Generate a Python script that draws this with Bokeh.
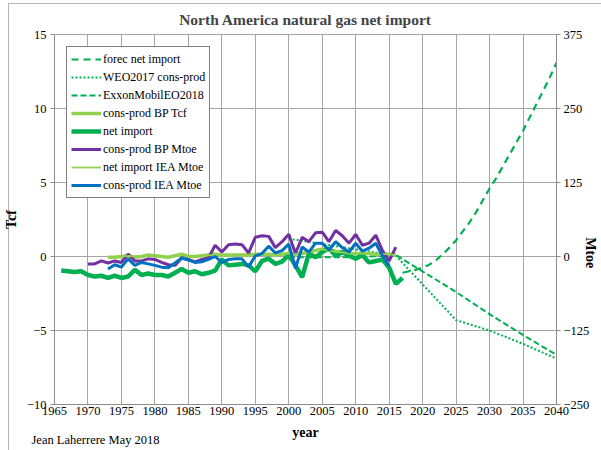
from bokeh.plotting import figure
from bokeh.models import Range1d, LinearAxis, FixedTicker, Legend, LegendItem, Title
from bokeh.embed import file_html
from bokeh.resources import INLINE

# ---------------- data ----------------
x_ticks = list(range(1965, 2041, 5))
y_ticks_tcf = [-10, -5, 0, 5, 10, 15]
y_ticks_mtoe = [-250, -125, 0, 125, 250, 375]

# net import (Tcf)
net_years = list(range(1966, 2018))
net_import = [-0.95, -1.0, -1.05, -1.0, -1.25, -1.35, -1.3, -1.45, -1.3, -1.45,
              -1.35, -0.9, -1.25, -1.15, -1.25, -1.25, -1.35, -1.1, -0.85, -1.1,
              -1.0, -1.2, -1.1, -0.95, -0.2, -0.6, -0.55, -0.5, -0.6, -1.0,
              -0.3, -0.15, -0.5, -0.35, 0.1, -0.6, -1.4, 0.2, -0.05, 0.3,
              0.55, 0.05, 0.3, 0.05, -0.15, 0.1, -0.4, -0.3, -0.2, -0.75,
              -1.85, -1.45]

# cons-prod BP (Tcf)
bp_tcf_years = list(range(1973, 2017))
bp_tcf = [-0.05, -0.05, 0.0, 0.05, -0.05, 0.0, 0.1, 0.05, 0.0, -0.05,
          0.05, 0.15, 0.0, 0.0, 0.05, 0.1, 0.15, 0.1, 0.1, 0.1,
          0.1, 0.1, 0.15, 0.15, 0.15, 0.1, 0.15, 0.2, 0.15, 0.2,
          0.3, 0.4, 0.5, 0.45, 0.35, 0.3, 0.2, 0.2, 0.2, 0.2,
          0.15, 0.15, 0.15, 0.1]

# cons-prod BP (Mtoe)
bp_mtoe_years = list(range(1970, 2017))
bp_mtoe = [-12.5, -12.5, -7.5, -11, -7.5, -10, 4, -7.5, -7.5, -4,
           -5, -10, -14, -15, -2.5, -5, -9, -5, -2.5, 19,
           7.5, 20, 21, 20, 6, 32.5, 35, 34, 15, 25,
           37.5, 5, 32.5, 25, 40, 41, 25, 44, 35, 22.5,
           37.5, 19, 22.5, 36, 10, -7.5, 16]

# net import IEA (Mtoe)
iea_net_years = list(range(1973, 2017))
iea_net = [-2, -1, 0, 1, 0, -1, 2, 1, 0, -1,
           1, 3, 1, 0, 1, 2, 3, 2, 2, 3,
           3, 2, 3, 4, 4, 3, 4, 5, 4, 5,
           7, 10, 12, 10, 8, 7, 5, 5, 5, 4,
           4, 4, 4, 2]

# cons-prod IEA (Mtoe)
iea_cp_years = list(range(1973, 2016))
iea_cp = [-21, -14, -18, -4, -15, -10, -12.5, -15, -18, -19,
          -11, -2.5, -6, -10, -9, -5, 0, -10, -5, -4,
          -4, -17.5, 1, 5, 17.5, 6, 10, 21, -20, 16,
          7.5, 22.5, 22.5, 11, 25, 15, 7.5, 22.5, 9, 14,
          22.5, 1, -16]

# forecast net import (Tcf)
forec_years = list(range(2017, 2041))
forec = [-1.1, -1.0, -0.9, -0.75, -0.55, -0.25, 0.15, 0.6, 1.1, 1.7,
         2.3, 3.0, 3.8, 4.6, 5.3, 6.1, 6.9, 7.7, 8.5, 9.4,
         10.3, 11.2, 12.1, 13.1]

# WEO2017 cons-prod (Tcf)
weo_years = [2000, 2016, 2025, 2030, 2035, 2040]
weo = [1.2, 0.05, -4.3, -5.0, -5.9, -6.9]

# ExxonMobil EO2018 (Tcf)
exx_years = [2000, 2010, 2016, 2025, 2030, 2035, 2040]
exx = [-0.05, -0.05, 0.1, -2.4, -3.9, -5.3, -6.65]

legend_labels = ["forec net import", "WEO2017 cons-prod", "ExxonMobilEO2018",
                 "cons-prod BP Tcf", "net import", "cons-prod BP Mtoe",
                 "net import IEA Mtoe", "cons-prod IEA Mtoe"]

# ---------------- styles ----------------
FONT = "Liberation Serif"
GREEN = "#00B050"
LGREEN = "#92D050"
PURPLE = "#7030A0"
BLUE = "#0070C0"
GRID = "#a6a6a6"
AXIS = "#8c8c8c"
FRAME = "#b4b4b4"

p = figure(width=601, height=450, output_backend="svg", toolbar_location=None,
           x_range=Range1d(1965, 2040), y_range=Range1d(-10, 15),
           min_border_left=53, min_border_right=40, min_border_top=34,
           min_border_bottom=46, title="North America natural gas net import")
p.extra_y_ranges = {"mtoe": Range1d(-250, 375)}

# thin outer frame of the original picture (left and top edges)
p.border_fill_color = None
p.styles = {"background": (f"linear-gradient({FRAME},{FRAME}) 8px 3px / 1px 100% no-repeat, "
                           f"linear-gradient({FRAME},{FRAME}) 8px 3px / 100% 1px no-repeat, "
                           "white")}

p.title.text_font = FONT
p.title.text_font_size = "15.5px"
p.title.text_font_style = "bold"
p.title.align = "center"
p.title.standoff = 14

p.outline_line_color = GRID
p.background_fill_color = "white"

p.xaxis.ticker = FixedTicker(ticks=x_ticks)
p.yaxis.ticker = FixedTicker(ticks=y_ticks_tcf)
p.xgrid.ticker = FixedTicker(ticks=x_ticks)
p.ygrid.ticker = FixedTicker(ticks=y_ticks_tcf)
for g in (p.xgrid, p.ygrid):
    g.grid_line_color = GRID
    g.grid_line_width = 1

p.xaxis.axis_label = "year"
p.yaxis.axis_label = "Tcf"

# non-breaking spaces push the rotated title down to where the original has it
right = LinearAxis(y_range_name="mtoe", ticker=FixedTicker(ticks=y_ticks_mtoe),
                   axis_label="\u00a0" * 19 + "Mtoe")
p.add_layout(right, "right")

for ax in (p.xaxis[0], p.yaxis[0], right):
    ax.axis_line_color = AXIS
    ax.major_tick_line_color = AXIS
    ax.minor_tick_line_color = None
    ax.major_tick_in = 0
    ax.major_tick_out = 4
    ax.major_label_text_font = FONT
    ax.major_label_text_font_size = "12.5px"
    ax.major_label_text_color = "black"
    ax.major_label_standoff = 4
    ax.axis_label_text_font = FONT
    ax.axis_label_text_font_size = "14px"
    ax.axis_label_text_font_style = "bold"
    ax.axis_label_text_color = "black"

p.xaxis.major_tick_out = 0
p.xaxis.major_label_standoff = 2
p.xaxis.axis_label_standoff = 7
p.yaxis.axis_label_standoff = 5
right.major_label_standoff = 3
right.axis_label_standoff = -9

# credit line under the chart
credit = Title(text="Jean Laherrere May 2018", align="left", offset=-23,
               vertical_align="top", standoff=-20, text_font=FONT,
               text_font_size="12.5px", text_font_style="normal",
               text_color="black")
p.add_layout(credit, "below")

# ---------------- lines ----------------
r_forec = p.line(forec_years, forec, line_color=GREEN, line_width=2.2, line_dash="7 5")
r_weo = p.line(weo_years, weo, line_color=GREEN, line_width=2, line_dash="2 2")
r_exx = p.line(exx_years, exx, line_color=GREEN, line_width=2, line_dash="6 3")
r_bp_tcf = p.line(bp_tcf_years, bp_tcf, line_color=LGREEN, line_width=3.5)
r_net = p.line(net_years, net_import, line_color=GREEN, line_width=4.5)
r_bp_mtoe = p.line(bp_mtoe_years, bp_mtoe, line_color=PURPLE, line_width=3,
                   y_range_name="mtoe")
r_iea_net = p.line(iea_net_years, iea_net, line_color=LGREEN, line_width=1.8,
                   y_range_name="mtoe")
r_iea_cp = p.line(iea_cp_years, iea_cp, line_color=BLUE, line_width=3,
                  y_range_name="mtoe")

renderers = [r_forec, r_weo, r_exx, r_bp_tcf, r_net, r_bp_mtoe, r_iea_net, r_iea_cp]
legend = Legend(items=[LegendItem(label=lab, renderers=[r])
                       for lab, r in zip(legend_labels, renderers)],
                location=(12, 206))
legend.label_text_font = FONT
legend.label_text_font_size = "12px"
legend.label_text_color = "black"
legend.border_line_color = "black"
legend.border_line_width = 1
legend.background_fill_color = "white"
legend.background_fill_alpha = 1
legend.padding = 4
legend.margin = 0
legend.spacing = 2
legend.glyph_width = 30
legend.glyph_height = 16
legend.label_height = 16
legend.label_standoff = 2
p.add_layout(legend)

open("out.html", "w").write(file_html(p, INLINE))
